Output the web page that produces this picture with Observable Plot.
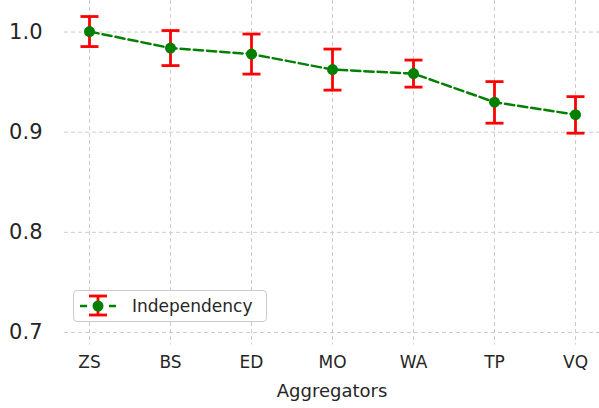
<!DOCTYPE html>
<html>
<head>
<meta charset="utf-8">
<script src="https://cdn.jsdelivr.net/npm/d3@7"></script>
<script src="https://cdn.jsdelivr.net/npm/@observablehq/plot@0.6"></script>
<style>
  html, body { margin: 0; padding: 0; background: #fff; }
  #wrap { position: relative; width: 599px; height: 408px; font-family: "DejaVu Sans", sans-serif; color: #262626; }
  #legend { position: absolute; left: 73px; top: 290px; width: 192px; height: 30px; border: 1px solid #cccccc; border-radius: 4px; background: rgba(255,255,255,0.85); }
  #legend svg { position: absolute; left: 0; top: 0; }
  #legend span { position: absolute; left: 58px; top: 4px; font-size: 17px; line-height: 22px; color: #262626; white-space: nowrap; }
</style>
</head>
<body>
<div id="wrap"></div>
<script>
const categories = ["ZS", "BS", "ED", "MO", "WA", "TP", "VQ"];
const means = [1.0005, 0.984, 0.978, 0.9625, 0.9585, 0.930, 0.9175];
const lower = [0.9855, 0.9665, 0.958, 0.942, 0.945, 0.909, 0.899];
const upper = [1.0155, 1.0015, 0.998, 0.983, 0.972, 0.9505, 0.9355];
const yTicks = [0.7, 0.8, 0.9, 1.0];
const seriesName = "Independency";
const xLabel = "Aggregators";

const data = categories.map((c, i) => ({cat: c, mean: means[i], lo: lower[i], hi: upper[i]}));

const capSymbol = {
  draw(ctx, size) {
    const w = Math.sqrt(size / Math.PI);
    ctx.moveTo(-w, 0);
    ctx.lineTo(w, 0);
  }
};

const chart = Plot.plot({
  width: 599,
  height: 408,
  marginLeft: 64,
  marginRight: 0,
  marginTop: 0,
  marginBottom: 63.5,
  style: {fontFamily: "DejaVu Sans, sans-serif", color: "#262626", background: "#fff"},
  x: {type: "point", domain: categories, padding: 0.3, label: null},
  y: {domain: [0.6875, 1.0315], label: null},
  marks: [
    Plot.gridX(categories, {stroke: "#cccccc", strokeOpacity: 1, strokeWidth: 1, strokeDasharray: "4,3"}),
    Plot.gridY(yTicks, {stroke: "#cccccc", strokeOpacity: 1, strokeWidth: 1, strokeDasharray: "4,3"}),
    Plot.axisY({ticks: yTicks, tickFormat: d3.format(".1f"), tickSize: 0, tickPadding: 22, fontSize: 21, label: null}),
    Plot.axisX({tickSize: 0, tickPadding: 11, fontSize: 17, label: null}),
    Plot.text([xLabel], {frameAnchor: "bottom", dy: 52, fontSize: 18, fill: "#262626", text: d => d}),
    Plot.ruleX(data, {x: "cat", y1: "lo", y2: "hi", stroke: "red", strokeWidth: 2.8}),
    Plot.dot(data, {x: "cat", y: "lo", symbol: capSymbol, r: 9, stroke: "red", strokeWidth: 2.8, fill: "none"}),
    Plot.dot(data, {x: "cat", y: "hi", symbol: capSymbol, r: 9, stroke: "red", strokeWidth: 2.8, fill: "none"}),
    Plot.line(data, {x: "cat", y: "mean", stroke: "green", strokeWidth: 2.5, strokeDasharray: "9.25,4"}),
    Plot.dot(data, {x: "cat", y: "mean", r: 5.5, fill: "green", stroke: "none"})
  ]
});

const wrap = document.getElementById("wrap");
wrap.appendChild(chart);

const legend = document.createElement("div");
legend.id = "legend";
legend.innerHTML = `
<svg width="56" height="30">
  <line x1="6" y1="15" x2="13" y2="15" stroke="green" stroke-width="2.5"/>
  <line x1="35" y1="15" x2="42" y2="15" stroke="green" stroke-width="2.5"/>
  <line x1="24" y1="5" x2="24" y2="24" stroke="red" stroke-width="2.8"/>
  <line x1="15" y1="5" x2="33" y2="5" stroke="red" stroke-width="2.8"/>
  <line x1="15" y1="24" x2="33" y2="24" stroke="red" stroke-width="2.8"/>
  <circle cx="24" cy="15" r="5.5" fill="green"/>
</svg>
<span>${seriesName}</span>`;
wrap.appendChild(legend);
</script>
</body>
</html>
